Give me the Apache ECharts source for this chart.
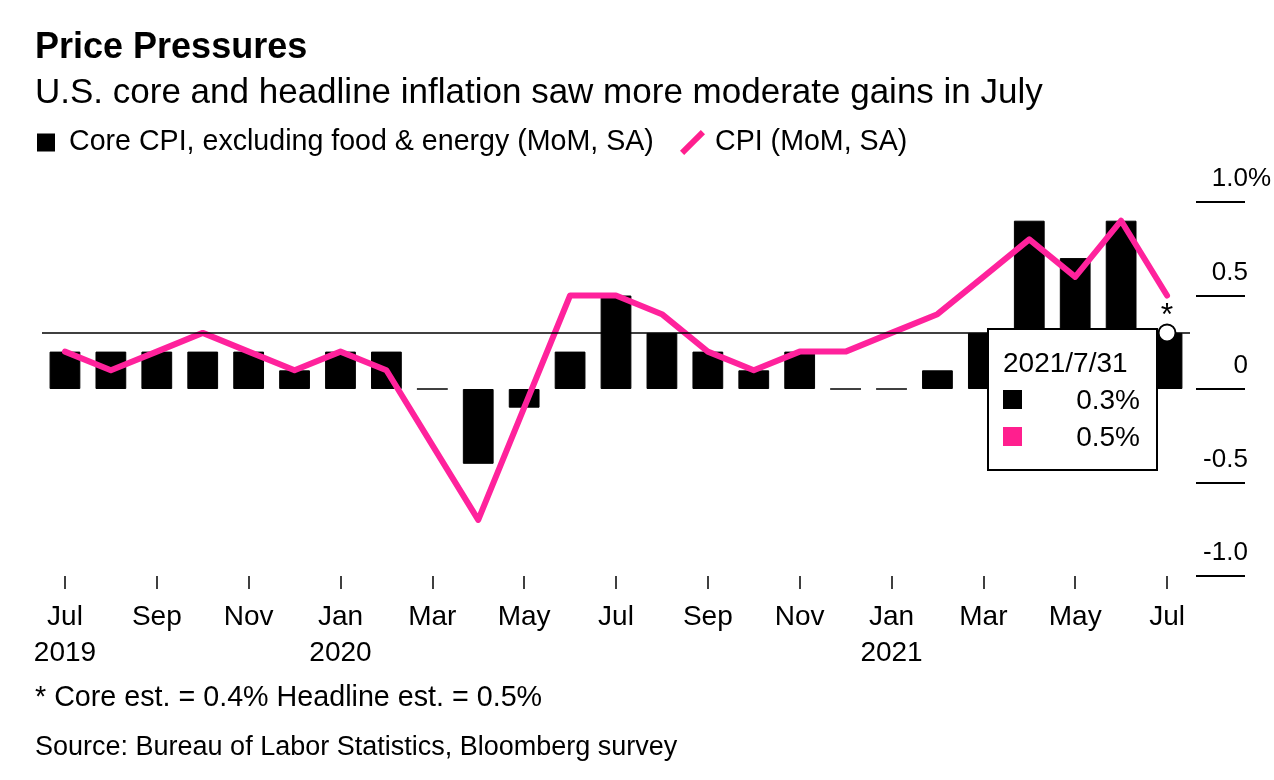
<!DOCTYPE html>
<html>
<head>
<meta charset="utf-8">
<script src="https://cdn.jsdelivr.net/npm/echarts@6/dist/echarts.min.js"></script>
<style>
  html, body { margin: 0; padding: 0; background: #fff; }
  #chart { width: 1274px; height: 780px; }
</style>
</head>
<body>
<div id="chart"></div>
<script>
// month-end dates, one per bar
var dates = ['2019/7/31', '2019/8/31', '2019/9/30', '2019/10/31', '2019/11/30', '2019/12/31',
  '2020/1/31', '2020/2/29', '2020/3/31', '2020/4/30', '2020/5/31', '2020/6/30',
  '2020/7/31', '2020/8/31', '2020/9/30', '2020/10/31', '2020/11/30', '2020/12/31',
  '2021/1/31', '2021/2/28', '2021/3/31', '2021/4/30', '2021/5/31', '2021/6/30', '2021/7/31'];

var tickLabels = ['Jul\n2019', 'Aug', 'Sep', 'Oct', 'Nov', 'Dec',
  'Jan\n2020', 'Feb', 'Mar', 'Apr', 'May', 'Jun',
  'Jul', 'Aug', 'Sep', 'Oct', 'Nov', 'Dec',
  'Jan\n2021', 'Feb', 'Mar', 'Apr', 'May', 'Jun', 'Jul'];

// Core CPI, excluding food & energy (MoM, SA)
var core = [0.2, 0.2, 0.2, 0.2, 0.2, 0.1, 0.2, 0.2, 0.0, -0.4, -0.1, 0.2,
  0.5, 0.3, 0.2, 0.1, 0.2, 0.0, 0.0, 0.1, 0.3, 0.9, 0.7, 0.9, 0.3];

// CPI (MoM, SA)
var cpi = [0.2, 0.1, 0.2, 0.3, 0.2, 0.1, 0.2, 0.1, -0.3, -0.7, -0.1, 0.5,
  0.5, 0.4, 0.2, 0.1, 0.2, 0.2, 0.3, 0.4, 0.6, 0.8, 0.6, 0.9, 0.5];

var yTicks = { '1': '1.0%', '0.5': '0.5', '0': '0', '-0.5': '-0.5', '-1': '-1.0' };

var FONT = '"Liberation Sans", Arial, sans-serif';
var PINK = '#ff1f8e';
var last = dates.length - 1;

var myChart = echarts.init(document.getElementById('chart'));

var option = {
  animation: false,
  textStyle: { fontFamily: FONT, color: '#000' },
  graphic: [
    { type: 'text', left: 35, top: 30, style: { text: 'Price Pressures', font: 'bold 36px ' + FONT, fill: '#000' } },
    { type: 'text', left: 35, top: 76, style: { text: 'U.S. core and headline inflation saw more moderate gains in July', font: '35px ' + FONT, fill: '#000' } },
    { type: 'text', left: 35, top: 684, style: { text: '* Core est. = 0.4% Headline est. = 0.5%', font: '28.7px ' + FONT, fill: '#000' } },
    { type: 'text', left: 35, top: 734, style: { text: 'Source: Bureau of Labor Statistics, Bloomberg survey', font: '27px ' + FONT, fill: '#000' } }
  ],
  legend: [{
    left: 37, top: 128, padding: 0,
    itemWidth: 16, itemHeight: 16,
    icon: 'rect',
    data: ['Core CPI, excluding food & energy (MoM, SA)'],
    textStyle: { fontSize: 28.6, fontFamily: FONT, color: '#000', padding: [0, 0, 0, 10] }
  }, {
    left: 680, top: 128, padding: 0,
    itemWidth: 25, itemHeight: 25,
    data: [{ name: 'CPI (MoM, SA)', icon: 'path://M0,20 L20,0 L24,4 L4,24 Z' }],
    textStyle: { fontSize: 28.6, fontFamily: FONT, color: '#000', padding: [0, 0, 0, 5] }
  }],
  grid: { left: 42, right: 82, top: 202, bottom: 204 },
  tooltip: {
    trigger: 'axis',
    alwaysShowContent: true,
    transitionDuration: 0,
    axisPointer: { type: 'none' },
    position: [987, 328],
    backgroundColor: '#fff',
    borderColor: '#000',
    borderWidth: 2,
    borderRadius: 0,
    padding: [14, 16, 14, 14],
    extraCssText: 'box-shadow:none;width:171px;box-sizing:border-box;',
    formatter: function (params) {
      var i = params[0].dataIndex;
      var row = function (color, val) {
        return '<div style="display:flex;align-items:center;justify-content:space-between;height:37px">' +
          '<span style="display:inline-block;width:19px;height:19px;background:' + color + '"></span>' +
          '<span>' + val.toFixed(1) + '%</span></div>';
      };
      return '<div style="font:28px ' + FONT.replace(/"/g, "'") + ';color:#000;line-height:37px">' +
        '<div>' + dates[i] + '</div>' + row('#000', core[i]) + row(PINK, cpi[i]) + '</div>';
    }
  },
  xAxis: {
    type: 'category',
    data: dates,
    axisLine: { show: false, onZero: false },
    axisTick: { show: true, interval: 1, alignWithLabel: true, length: 13, lineStyle: { color: '#000', width: 1.5 } },
    axisLabel: {
      interval: 1,
      margin: 23,
      fontSize: 28,
      lineHeight: 36,
      color: '#000',
      fontFamily: FONT,
      formatter: function (v, i) { return tickLabels[i]; }
    },
    splitLine: { show: false }
  },
  yAxis: {
    type: 'value',
    position: 'right',
    offset: 6,
    min: -1, max: 1, interval: 0.5,
    axisLine: { show: false },
    axisTick: { show: true, length: 49, lineStyle: { color: '#000', width: 2 } },
    splitLine: { show: false },
    axisLabel: {
      align: 'right',
      verticalAlign: 'bottom',
      margin: 75,
      padding: [0, 0, 10, 0],
      fontSize: 26,
      color: '#000',
      fontFamily: FONT,
      formatter: function (v) {
        var t = yTicks[String(v)];
        return v === 1 ? t : t + '{h|%}';
      },
      rich: { h: { color: 'rgba(0,0,0,0)', fontSize: 26, fontFamily: FONT } }
    }
  },
  series: [{
    name: 'Core CPI, excluding food & energy (MoM, SA)',
    type: 'bar',
    data: core,
    barWidth: '67%',
    itemStyle: { color: '#000', borderColor: '#000', borderWidth: 1 },
    markLine: {
      silent: true,
      symbol: 'none',
      label: { show: false },
      lineStyle: { color: '#000', width: 1.5, type: 'solid' },
      data: [{ yAxis: core[last] }]
    },
    markPoint: {
      silent: true,
      symbol: 'circle',
      symbolSize: 17,
      itemStyle: { color: '#fff', borderColor: '#000', borderWidth: 2 },
      label: { show: true, position: 'top', distance: -9, formatter: '*', fontSize: 32, color: '#000', fontFamily: FONT },
      data: [{ coord: [dates[last], core[last]] }]
    }
  }, {
    name: 'CPI (MoM, SA)',
    type: 'line',
    data: cpi,
    symbol: 'none',
    z: 3,
    itemStyle: { color: PINK },
    lineStyle: { color: PINK, width: 6, cap: 'round', join: 'round' }
  }]
};

myChart.setOption(option);
myChart.dispatchAction({ type: 'showTip', seriesIndex: 0, dataIndex: last });
</script>
</body>
</html>
